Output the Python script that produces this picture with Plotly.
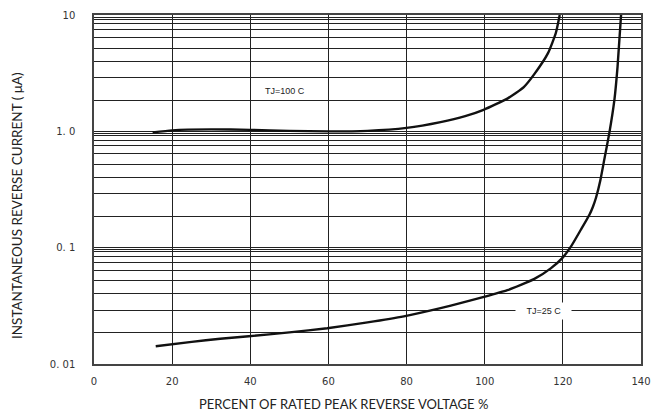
import math
import plotly.graph_objects as go

# ---- data ----
x_100 = [15, 20, 30, 40, 50, 60, 70, 80, 88.7, 95, 99.7, 106, 110, 112.6, 116.2, 118.2, 119.2]
y_100 = [0.98, 1.02, 1.04, 1.03, 1.01, 1.0, 1.01, 1.07, 1.2, 1.35, 1.53, 1.93, 2.4, 3.07, 4.7, 7.0, 10.0]

x_25 = [15.8, 25, 32.3, 39.6, 50, 59.7, 70, 79.3, 88.7, 94, 99.8, 105.8, 112.6, 116.9, 119.9,
        122.1, 124.6, 126.8, 127.7, 128.5, 129.6, 130.6, 131.9, 133.2, 134.0, 134.9]
y_25 = [0.0142, 0.0155, 0.0165, 0.0173, 0.0187, 0.0203, 0.0228, 0.0257, 0.0302, 0.0335, 0.0377,
        0.0431, 0.0536, 0.0664, 0.0818, 0.1026, 0.1425, 0.192, 0.225, 0.27, 0.38, 0.571, 0.97,
        1.87, 3.6, 10.0]

x_ticks = [0, 20, 40, 60, 80, 100, 120, 140]
x_ticklabels = ["0", "20", "40", "60", "80", "100", "120", "140"]

decades = [10, 1, 0.1]
decade_labels = ["10", "1. 0", "0. 1"]
bottom_value, bottom_label = 0.01, "0. 01"
grid_multipliers = [0.96, 0.92, 0.84, 0.75, 0.64, 0.52, 0.40, 0.29, 0.185]

label_100 = "TJ=100 C"
label_25 = "TJ=25 C"
x_title = "PERCENT OF RATED PEAK REVERSE VOLTAGE %"
y_title = "INSTANTANEOUS REVERSE CURRENT ( \u03bcA)"

# ---- build tick / grid lists ----
y_tickvals, y_ticktext = [], []
for d, lab in zip(decades, decade_labels):
    y_tickvals.append(d)
    y_ticktext.append(lab)
    for m in grid_multipliers:
        y_tickvals.append(d * m)
        y_ticktext.append("")
y_tickvals.append(bottom_value)
y_ticktext.append(bottom_label)

fig = go.Figure()
line_style = dict(color="#111", width=2.4, shape="spline", smoothing=0.5)
fig.add_trace(go.Scatter(x=x_100, y=y_100, mode="lines", line=line_style, showlegend=False, hoverinfo="skip"))
fig.add_trace(go.Scatter(x=x_25, y=y_25, mode="lines", line=line_style, showlegend=False, hoverinfo="skip"))

fig.add_annotation(x=49, y=math.log10(2.24), xref="x", yref="y", text=label_100, showarrow=False,
                   font=dict(family="Liberation Sans", size=9, color="#222"))
fig.add_annotation(x=115, y=math.log10(0.0287), xref="x", yref="y",
                   text="&nbsp;&nbsp;&nbsp;" + label_25 + "&nbsp;&nbsp;&nbsp;", showarrow=False,
                   bgcolor="white", borderpad=3,
                   font=dict(family="Liberation Sans", size=9, color="#222"))

# page body has an 8px margin: lay out in figure coordinates offset by 8px
OFF = 8
W, H = 661 - 2 * OFF, 419 - 2 * OFF
pl, pr, pt, pb = 94 - OFF, 641 - OFF, 15 - OFF, 364 - OFF
def px_to_paper_x(px):
    return (px - OFF - pl) / (pr - pl)
def px_to_paper_y(py):
    return (pb - (py - OFF)) / (pb - pt)

fig.add_annotation(x=px_to_paper_x(343), y=px_to_paper_y(404), xref="paper", yref="paper", text=x_title,
                   showarrow=False, xanchor="center", yanchor="middle",
                   font=dict(family="Lato", size=13, color="#222"))
fig.add_annotation(x=px_to_paper_x(17), y=px_to_paper_y(206), xref="paper", yref="paper", text=y_title,
                   showarrow=False, xanchor="center", yanchor="middle", textangle=-90,
                   font=dict(family="Lato", size=13.5, color="#222"))

fig.update_xaxes(range=[0, 140], tickvals=x_ticks, ticktext=x_ticklabels, showgrid=True, gridcolor="#222",
                 gridwidth=1, showline=True, linecolor="#444", linewidth=1.5, mirror=True, zeroline=False,
                 ticks="", ticklabelstandoff=7, automargin=False,
                 tickfont=dict(family="DejaVu Sans", size=10, color="#333"))
fig.update_yaxes(type="log", range=[-2, 1], tickvals=y_tickvals, ticktext=y_ticktext, showgrid=True,
                 gridcolor="#222", gridwidth=1, showline=True, linecolor="#444", linewidth=1.5, mirror=True,
                 zeroline=False, ticks="", ticklabelstandoff=15, automargin=False,
                 tickfont=dict(family="DejaVu Sans", size=10, color="#333"))

fig.update_layout(width=W, height=H, margin=dict(l=pl, r=W - pr, t=pt, b=H - pb, autoexpand=False),
                  plot_bgcolor="white", paper_bgcolor="white")

fig.write_html("out.html")
